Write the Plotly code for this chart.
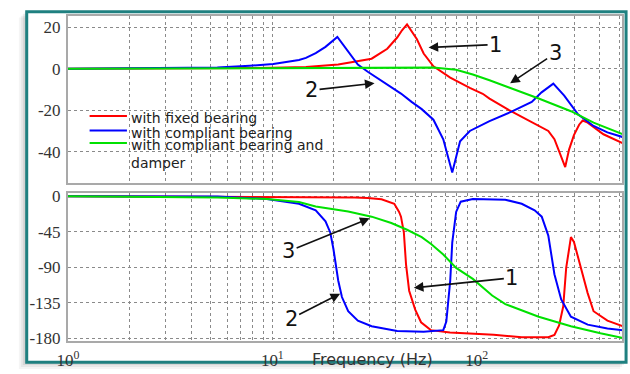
import math
import plotly.graph_objects as go

W, H = 630, 374

# ---------------- data ----------------
series_names = ["with fixed bearing", "with compliant bearing",
                "with compliant bearing and<br>damper"]
series_colors = ["rgb(255,0,0)", "rgb(0,0,255)", "rgb(0,225,0)"]

# magnitude (dB)
f_red_mag = [1, 5, 10, 14.6, 21, 30.6, 36.5, 40.8, 43.1, 45.6, 50.9, 55, 61.4, 74.2, 92.5, 107,
             115.5, 144, 201, 224, 240, 259, 271, 283, 299, 317, 330, 349, 417, 520]
red_mag = [0, 0.2, 0.4, 0.8, 2.0, 4.8, 9.6, 15, 18.5, 21.3, 14.3, 7.3, 1.1, -4.3, -9.3, -12.1,
           -14.4, -20, -27.6, -30, -34, -43, -47.4, -39, -32, -27, -25, -26, -31.6, -36]

f_blue_mag = [1, 3.65, 5.38, 7.75, 10.1, 13.5, 14.6, 16.3, 18.2, 20.8, 23.5, 26.2, 29.3, 34.2, 38.2,
              42.6, 48, 53.8, 61.4, 68.6, 75.9, 82.9, 92.5, 115.5, 148.9, 185.9, 207.6, 237, 268,
              313, 373, 436, 520]
blue_mag = [0, 0.3, 0.6, 1.4, 2.2, 4.2, 5.2, 7.5, 10.5, 15.3, 8.5, 2, -1.5, -6, -9,
            -12, -16, -19.5, -24.6, -34, -50, -35, -30, -25.3, -20.6, -16, -11.4, -7.2, -13,
            -22, -27.6, -30.7, -33]

f_green_mag = [1, 30, 61.4, 79.3, 95.7, 115.5, 144, 201, 289, 373, 520]
green_mag = [0, 0.4, 0.5, -0.5, -2.8, -5.6, -9, -14.4, -20.5, -26, -31.6]

# phase (deg)
f_red_ph = [1, 10, 25.3, 29.3, 34.2, 39.5, 41.7, 42.6, 44, 45.1, 46.7, 50, 53.4, 59.6, 74, 121,
            166, 224, 240, 253, 265, 274, 289, 299, 323, 349, 373, 436, 520]
red_ph = [0, -0.5, -1.6, -2.4, -4, -9.7, -20, -26, -46, -87, -120, -144, -160, -170, -173, -176,
          -179, -179, -176, -164, -140, -91, -52, -58, -91, -123, -146, -158, -165]

f_blue_ph = [1, 5.4, 9.4, 13.5, 16.3, 18.2, 19.2, 19.9, 21.0, 21.9, 23.5, 26.2, 30.6, 40.8, 55,
             68.6, 71, 74.2, 75.9, 79.3, 83.5, 95.7, 137.9, 166, 192, 208, 224, 240, 259, 289,
             349, 436, 520]
blue_ph = [0, -0.5, -3.6, -9.7, -18, -32, -46, -67, -107, -128, -146, -158, -165, -171, -172,
           -170, -159, -107, -59, -20, -7, -3.6, -4.5, -9.7, -18, -26, -50, -99, -131, -153,
           -163, -168, -170]

f_green_ph = [1, 5.4, 9.4, 13.5, 16.3, 23.5, 30.6, 38.2, 45.6, 53.8, 60, 68.6, 79.3, 95.7, 119,
              138, 201, 289, 403, 520]
green_ph = [0, -1.6, -3.6, -7.5, -13, -19.5, -26, -34, -42.6, -52, -61, -74, -91, -105, -126,
            -137, -153, -165, -174, -180]

x_tick_vals = [1, 2, 3, 4, 5, 6, 7, 8, 9, 10, 20, 30, 40, 50, 60, 70, 80, 90, 100, 200, 300, 400, 500]
x_tick_text = ["10<sup>0</sup>" if v == 1 else "10<sup>1</sup>" if v == 10 else
               "10<sup>2</sup>" if v == 100 else "" for v in x_tick_vals]
mag_ticks = [-40, -20, 0, 20]
phase_ticks = [-180, -135, -90, -45, 0]
x_title = "Frequency (Hz)"
arrow_labels = ["1", "2", "3", "3", "2", "1"]


# ---------------- helpers ----------------
def px(x):
    return x / W


def py(y):
    return 1 - y / H


fig = go.Figure()
mags = [(f_red_mag, red_mag), (f_blue_mag, blue_mag), (f_green_mag, green_mag)]
phs = [(f_red_ph, red_ph), (f_blue_ph, blue_ph), (f_green_ph, green_ph)]
for i in range(3):
    fig.add_trace(go.Scatter(x=mags[i][0], y=mags[i][1], mode="lines", xaxis="x", yaxis="y",
                             name=series_names[i], showlegend=False,
                             line=dict(color=series_colors[i], width=2)))
    fig.add_trace(go.Scatter(x=phs[i][0], y=phs[i][1], mode="lines", xaxis="x2", yaxis="y2",
                             name=series_names[i], showlegend=False,
                             line=dict(color=series_colors[i], width=2)))

x_left, x_right = 58, 622
decade = 208.0
xr = [0, (x_right - x_left) / decade]
grid = dict(showgrid=True, gridcolor="#8a8a8a", griddash="dot", gridwidth=1,
            showline=True, mirror=True, linecolor="#a9a9a9", linewidth=2,
            zeroline=False, ticks="")
tickfont = dict(family="Liberation Serif", size=17, color="#333")

fig.update_layout(
    width=W, height=H, margin=dict(l=0, r=0, t=0, b=0),
    paper_bgcolor="white", plot_bgcolor="white",
    showlegend=False,
    xaxis=dict(type="log", domain=[px(x_left), px(x_right)], range=xr, anchor="y",
               tickvals=x_tick_vals, ticktext=[""] * len(x_tick_vals), **grid),
    xaxis2=dict(type="log", domain=[px(x_left), px(x_right)], range=xr, anchor="y2",
                tickvals=x_tick_vals, ticktext=x_tick_text, tickfont=tickfont,
                ticklabelstandoff=3, **grid),
    yaxis=dict(domain=[py(183), py(10.5)], range=[-54.9, 25.3], anchor="x",
               tickvals=mag_ticks, ticktext=[str(v) for v in mag_ticks], tickfont=tickfont,
               ticklabelstandoff=2, **grid),
    yaxis2=dict(domain=[py(347), py(194)], range=[-183.7, 3.7], anchor="x2",
                tickvals=phase_ticks, ticktext=[str(v) for v in phase_ticks], tickfont=tickfont,
                ticklabelstandoff=2, **grid),
)

shapes = []
# soft shadow
for k, a in [(8, 0.04), (6, 0.05), (4, 0.07), (2, 0.08)]:
    shapes.append(dict(type="rect", xref="paper", yref="paper", layer="below",
                       x0=px(16 - k), x1=px(626 - k + 2), y0=py(369 + k - 1), y1=py(6 + k - 2),
                       fillcolor=f"rgba(0,0,0,{a})", line=dict(width=0)))
# teal frame
shapes.append(dict(type="rect", xref="paper", yref="paper", layer="below",
                   x0=px(16), x1=px(626), y0=py(369), y1=py(6),
                   fillcolor="white", line=dict(color="#1f8080", width=3)))
# legend background box (covers grid, below traces)
shapes.append(dict(type="rect", xref="paper", yref="paper", layer="between",
                   x0=px(72), x1=px(380), y0=py(165), y1=py(93),
                   fillcolor="white", line=dict(width=0)))
# legend line samples
leg_rows = [114, 129, 142]
for i in range(3):
    shapes.append(dict(type="line", xref="paper", yref="paper",
                       x0=px(80), x1=px(118), y0=py(leg_rows[i]), y1=py(leg_rows[i]),
                       line=dict(color=series_colors[i], width=2)))
fig.update_layout(shapes=shapes)

annotations = []
for i in range(3):
    annotations.append(dict(xref="paper", yref="paper", x=px(121), y=py(leg_rows[i] - 7),
                            xanchor="left", yanchor="top", showarrow=False, align="left",
                            text=series_names[i], borderpad=0,
                            font=dict(family="DejaVu Sans", size=14, color="#222")))
annotations.append(dict(xref="paper", yref="paper", x=px(368), y=py(366), showarrow=False,
                        text=x_title, xanchor="center", yanchor="middle",
                        font=dict(family="DejaVu Sans", size=16, color="#333")))

# arrows: tip (x,y) and text centre (tx,ty) in pixels
arrow_pos = [((425, 43), (492, 40)), ((370, 80), (307, 87)), ((508, 80), (553, 50)),
             ((365, 220), (284, 253)), ((335, 298), (286, 323)), ((410, 292), (508, 282))]
for lab, ((x, y), (tx, ty)) in zip(arrow_labels, arrow_pos):
    annotations.append(dict(xref="paper", yref="paper", x=px(x), y=py(y),
                            ax=tx - x, ay=ty - y, axref="pixel", ayref="pixel",
                            text=lab, showarrow=True, arrowhead=2, arrowsize=1.2,
                            arrowwidth=1.6, arrowcolor="#111", standoff=0,
                            font=dict(family="DejaVu Sans", size=21, color="#111")))
fig.update_layout(annotations=annotations)

fig.write_html("out.html")
